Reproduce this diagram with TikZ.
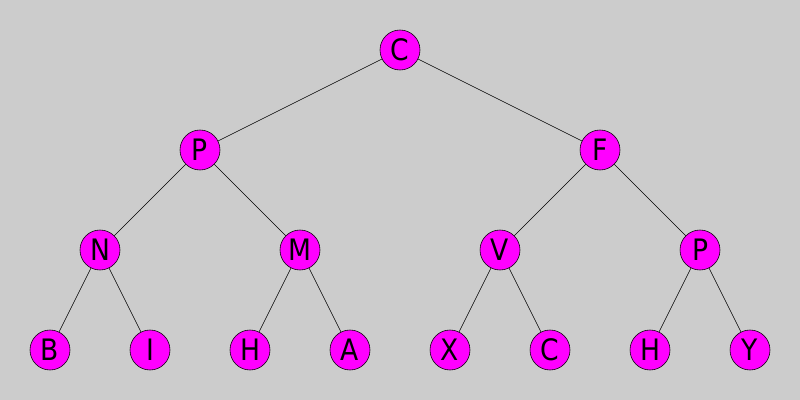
\documentclass[tikz,border=0pt]{standalone}
\usepackage{fontspec}
\setmainfont{DejaVu Sans Condensed}
\definecolor{bggray}{HTML}{CCCCCC}
\definecolor{nodemag}{HTML}{FF00FF}
\tikzset{
  treenode/.style={circle, draw=black, fill=nodemag, minimum size=40*0.025cm,
    inner sep=0pt, font=\fontsize{21}{22}\selectfont}
}
\begin{document}
\begin{tikzpicture}[x=0.025cm, y=-0.025cm]
            \fill[bggray] (0,0) rectangle (800,400);
            \node[treenode] (c) at (400,50) {C};
            \node[treenode] (p) at (200,150) {P};
            \node[treenode] (f) at (600,150) {F};
            \node[treenode] (n) at (100,250) {N};
            \node[treenode] (m) at (300,250) {M};
            \node[treenode] (v) at (500,250) {V};
            \node[treenode] (p2) at (700,250) {P};
            \node[treenode] (b) at (50,350) {B};
            \node[treenode] (i) at (150,350) {I};
            \node[treenode] (h) at (250,350) {H};
            \node[treenode] (a) at (350,350) {A};
            \node[treenode] (x) at (450,350) {X};
            \node[treenode] (c2) at (550,350) {C};
            \node[treenode] (h2) at (650,350) {H};
            \node[treenode] (y) at (750,350) {Y};
            \draw (c) -- (p);
            \draw (c) -- (f);
            \draw (p) -- (n);
            \draw (p) -- (m);
            \draw (f) -- (v);
            \draw (f) -- (p2);
            \draw (n) -- (b);
            \draw (n) -- (i);
            \draw (m) -- (h);
            \draw (m) -- (a);
            \draw (v) -- (x);
            \draw (v) -- (c2);
            \draw (p2) -- (h2);
            \draw (p2) -- (y);
          \end{tikzpicture}
\end{document}
